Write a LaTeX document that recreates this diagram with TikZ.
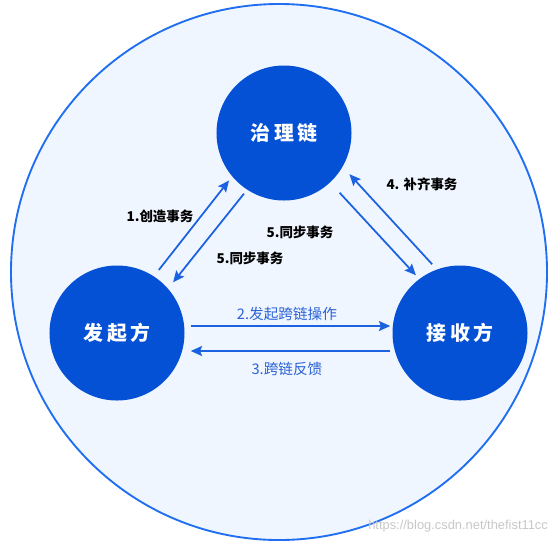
\documentclass[tikz,border=0pt]{standalone}
\usepackage{fontspec}
\newfontfamily\cjk{Noto Sans CJK SC}
\setsansfont{Liberation Sans}
\usepackage{tikz}
\usetikzlibrary{arrows.meta, positioning}

\definecolor{ringblue}{HTML}{1F6FF0}
\definecolor{ringfill}{HTML}{F0F6FF}
\definecolor{nodeblue}{HTML}{0551D6}
\definecolor{arrowblue}{HTML}{1A62E0}
\definecolor{textblue}{HTML}{2B62D6}

\begin{document}
\begin{tikzpicture}[x=0.03cm, y=-0.03cm]

    % Define styles for the nodes
    \tikzstyle{party} = [
        circle, fill=nodeblue, text=white, text centered,
        minimum size=4.05cm, inner sep=0pt, font=\cjk\bfseries\fontsize{17}{20}\selectfont
    ]
    \tikzstyle{steplabel} = [font=\cjk\bfseries\fontsize{11.5}{14}\selectfont, text=black]
    \tikzstyle{flowlabel} = [font=\cjk\fontsize{12.5}{15}\selectfont, text=textblue]
    \tikzstyle{arrow} = [line width=1.5pt, arrowblue, -{Stealth[length=0.34cm, width=0.3cm, inset=0.06cm]}]

    \useasboundingbox (0,0) rectangle (559,546);

    % Outer ring
    \draw [ringblue, fill=ringfill, line width=1.6pt] (279,272) circle [radius=8.04cm];

    % Nodes
    \node (gov) [party] at (284,133) {治\,理\,链};
    \node (send) [party] at (117,333) {发\,起\,方};
    \node (recv) [party] at (460,333) {接\,收\,方};

    % Arrows
    \draw [arrow, shorten <=8*0.85pt, shorten >=5*0.85pt] (send.57) -- (gov.220);
    \draw [arrow, shorten <=5*0.85pt, shorten >=8*0.85pt] (gov.237) -- (send.41);
    \draw [arrow, shorten <=14*0.85pt, shorten >=5*0.85pt] (gov.313) -- (recv.127);
    \draw [arrow, shorten <=7*0.85pt, shorten >=10*0.85pt] (recv.110) -- (gov.330);
    \draw [arrow] ([shift={(6,-7)}]send.east) -- ([shift={(-2,-7)}]recv.west);
    \draw [arrow] ([shift={(-2,18)}]recv.west) -- ([shift={(6,18)}]send.east);

    % Labels
    \node (create) [steplabel] at (160,216) {1.创造事务};
    \node (syncl) [steplabel] at (250,258) {5.同步事务};
    \node (syncr) [steplabel] at (300,232) {5.同步事务};
    \node (fill) [steplabel] at (422,184) {4. 补齐事务};
    \node (start) [flowlabel] at (287,314) {2.发起跨链操作};
    \node (back) [flowlabel] at (287,369) {3.跨链反馈};

    % Watermark
    \node (mark) [font=\sffamily\fontsize{11}{13}\selectfont, text=black!22, anchor=east] at (552,526) {https://blog.csdn.net/thefist11cc};

\end{tikzpicture}
\end{document}
